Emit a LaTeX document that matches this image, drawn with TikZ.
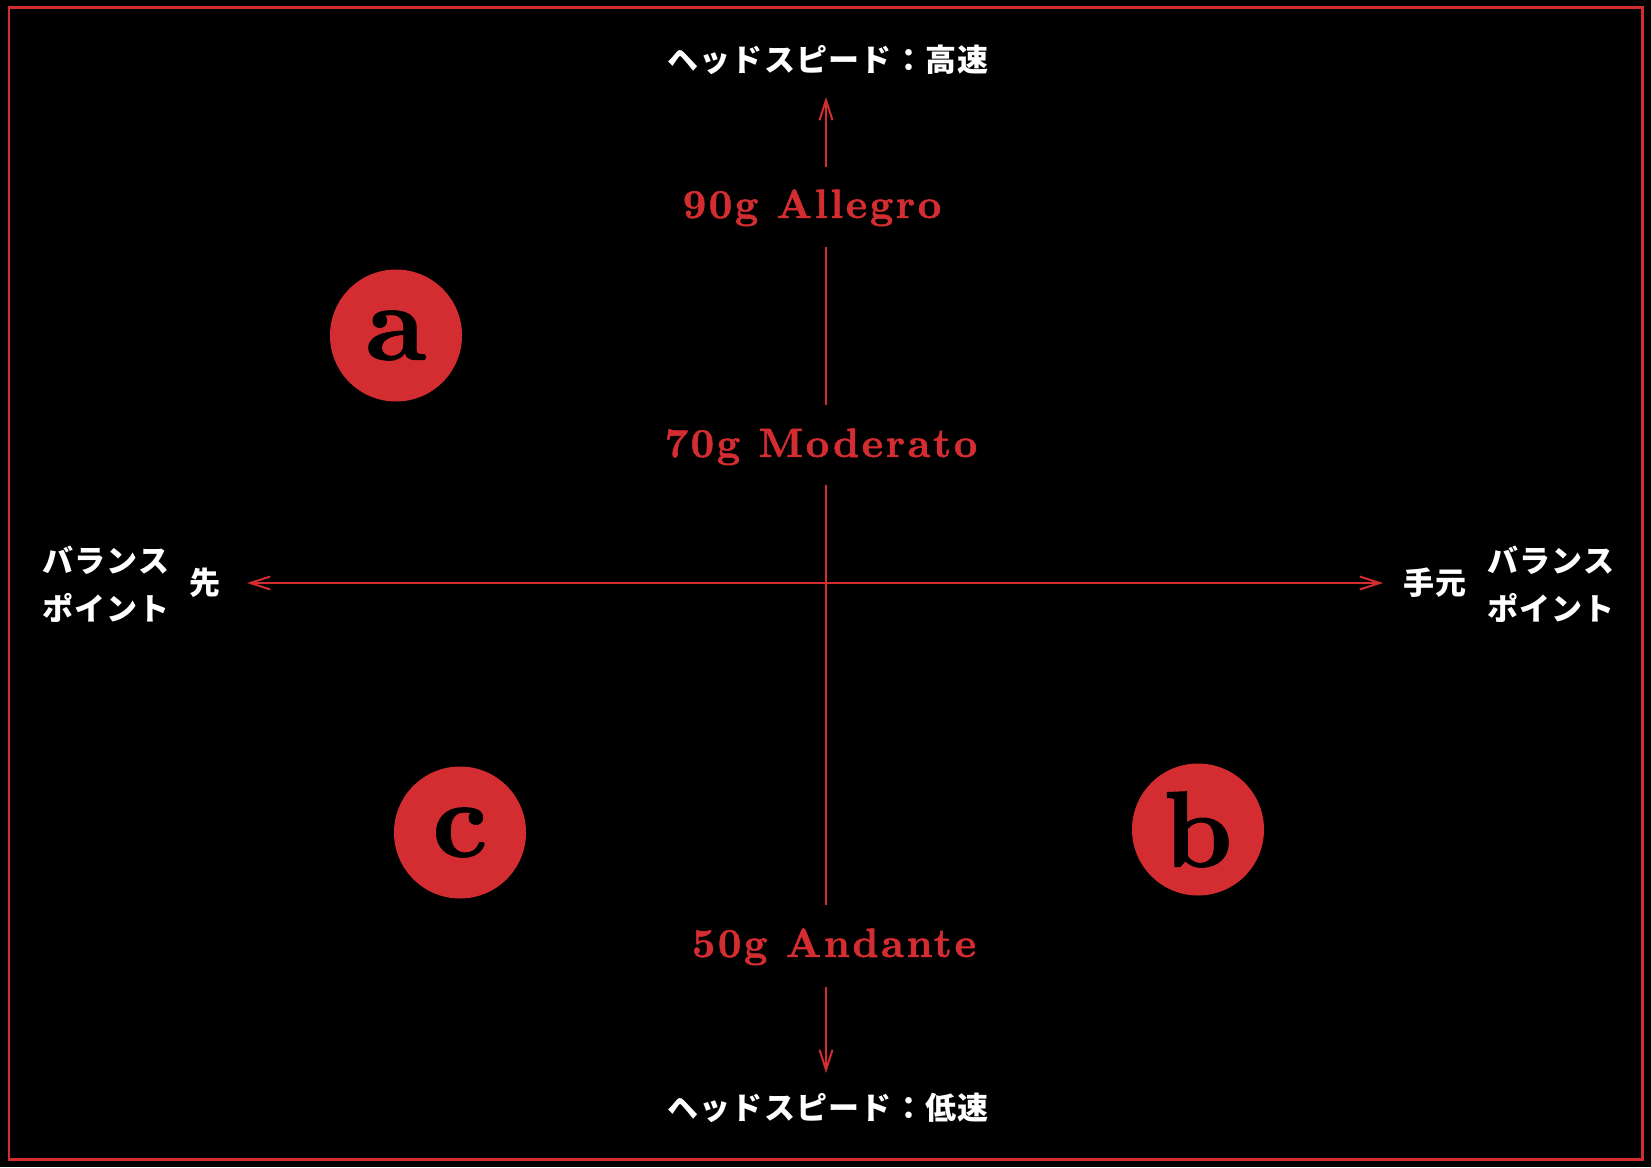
\documentclass[tikz,border=0pt]{standalone}
\usepackage{fontspec}
\usetikzlibrary{arrows.meta}
\newfontfamily\jpfont{Noto Sans CJK JP}[LetterSpace=4]
\newfontfamily\redfont{lmroman10-bold.otf}[LetterSpace=6, FakeBold=1.2]
\newfontfamily\circfont{lmroman10-bold.otf}[FakeBold=1]
\definecolor{axred}{RGB}{211,45,50}
\tikzset{
  axis/.style={draw=axred, line width=2pt},
  tipbarb/.style={-{Straight Barb[length=20pt,width=13pt,line width=2pt]}},
  jp/.style={text=white, font={\jpfont\bfseries\fontsize{31}{48}\selectfont}, inner sep=0pt, align=left},
  redlab/.style={text=axred, font={\redfont\fontsize{41}{48}\selectfont}, inner sep=0pt, anchor=base},
  disc/.style={circle, fill=axred, minimum size=132pt, inner sep=0pt},
  letter/.style={text=black, font={\circfont\fontsize{108}{110}\selectfont}, inner sep=0pt}
}
\begin{document}
\begin{tikzpicture}[x=1pt,y=-1pt]
  \fill[black] (0,0) rectangle (1651,1167);
  \useasboundingbox (0,0) rectangle (1651,1167);
  \draw[draw=axred, line width=2.5pt] (9,7.5) rectangle (1642.5,1159.5);

  % axis labels
  \node[jp] (top) at (828,60) {ヘッドスピード：高速};
  \node[jp] (bottom) at (828,1108) {ヘッドスピード：低速};
  \node[jp] (leftbp) at (106,584) {バランス\\ポイント};
  \node[jp] (saki) at (205,583) {先};
  \node[jp] (temoto) at (1435,583) {手元};
  \node[jp] (rightbp) at (1551,584) {バランス\\ポイント};

  % weight labels
  \node[redlab] (allegro) at (812,218) {90g Allegro};
  \node[redlab] (moderato) at (821,457) {70g Moderato};
  \node[redlab] (andante) at (834,957) {50g Andante};

  % axis segment ends
  \coordinate (tipT) at (826,97);
  \coordinate (s1) at (826,167);
  \coordinate (s2) at (826,247);
  \coordinate (s3) at (826,405);
  \coordinate (s4) at (826,485);
  \coordinate (s5) at (826,905);
  \coordinate (s6) at (826,987);
  \coordinate (tipB) at (826,1073);
  \coordinate (tipL) at (247,583);
  \coordinate (tipR) at (1383,583);

  \draw[axis, tipbarb] (s1) -- (tipT);
  \draw[axis] (s2) -- (s3);
  \draw[axis] (s4) -- (s5);
  \draw[axis, tipbarb] (s6) -- (tipB);
  \draw[axis, {Straight Barb[length=20pt,width=13pt,line width=2pt]}-{Straight Barb[length=20pt,width=13pt,line width=2pt]}] (tipL) -- (tipR);

  % discs
  \node[disc] (da) at (396,335.5) {};
  \node[disc] (db) at (1198,829.5) {};
  \node[disc] (dc) at (460,832.5) {};
  \node[letter] (la) at (da.center) {a};
  \node[letter] (lb) at (db.center) {b};
  \node[letter] (lc) at (dc.center) {c};
\end{tikzpicture}
\end{document}
